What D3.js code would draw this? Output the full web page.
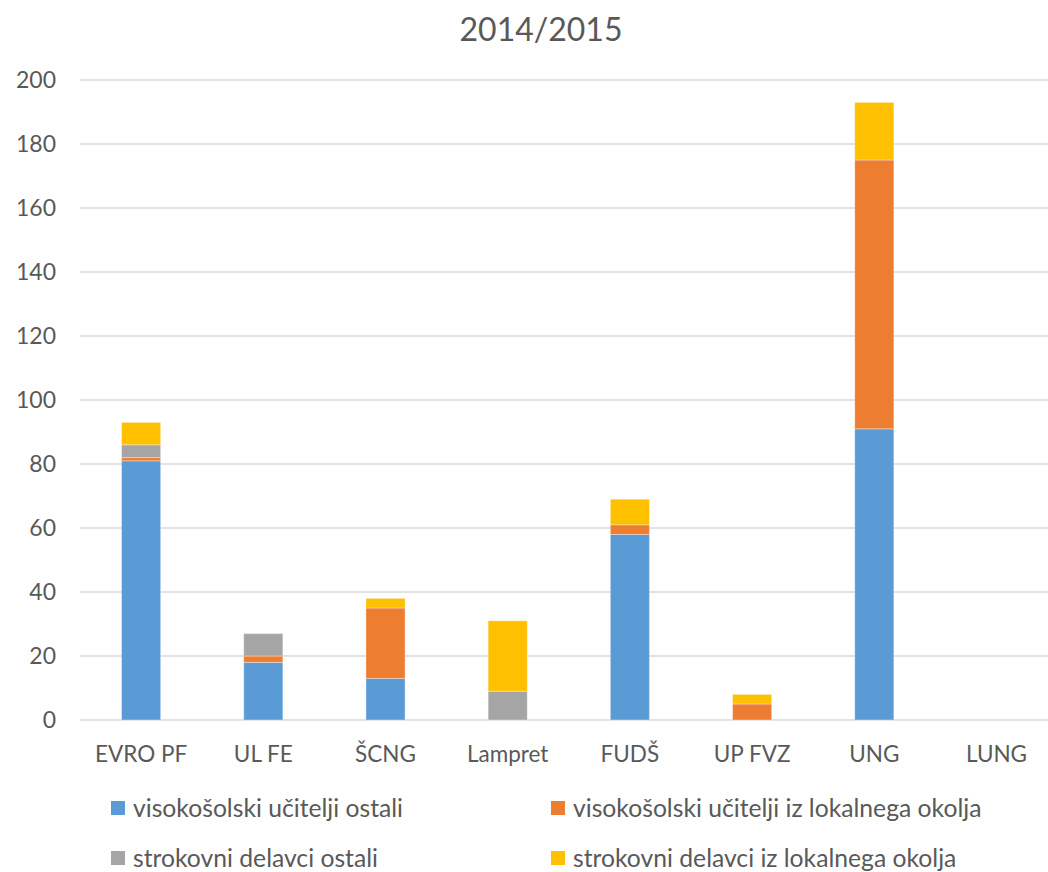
<!DOCTYPE html>
<html>
<head>
<meta charset="utf-8">
<script src="https://cdn.jsdelivr.net/npm/d3@7"></script>
<style>
  body { margin: 0; background: #fff; }
  text { font-family: Lato, "Open Sans", sans-serif; fill: #595959; }
</style>
</head>
<body>
<div id="chart"></div>
<script>
const categories = ["EVRO PF", "UL FE", "ŠCNG", "Lampret", "FUDŠ", "UP FVZ", "UNG", "LUNG"];
const seriesNames = [
  "visokošolski učitelji ostali",
  "visokošolski učitelji iz lokalnega okolja",
  "strokovni delavci ostali",
  "strokovni delavci iz lokalnega okolja"
];
const vsOstali = [81, 18, 13, 0, 58, 0, 91, 0];
const vsLokalni = [1, 2, 22, 0, 3, 5, 84, 0];
const sdOstali = [4, 7, 0, 9, 0, 0, 0, 0];
const sdLokalni = [7, 0, 3, 22, 8, 3, 18, 0];
const yTicks = [0, 20, 40, 60, 80, 100, 120, 140, 160, 180, 200];
const colors = ["#5b9bd5", "#ed7d31", "#a5a5a5", "#ffc000"];

const width = 1048, height = 872;
const margin = { top: 80, left: 80, bottom: 152 };
const plotRight = 80 + 8 * 122.2;

const svg = d3.select("#chart")
  .append("svg")
  .attr("width", width)
  .attr("height", height);

const rows = categories.map((c, i) => ({
  cat: c,
  s0: vsOstali[i], s1: vsLokalni[i], s2: sdOstali[i], s3: sdLokalni[i]
}));
const stack = d3.stack().keys(["s0", "s1", "s2", "s3"]);
const layers = stack(rows);

const x = d3.scaleBand()
  .domain(categories)
  .range([margin.left, plotRight])
  .paddingInner(0.68)
  .paddingOuter(0.34);

const y = d3.scaleLinear()
  .domain([0, 200])
  .range([height - margin.bottom, margin.top]);

// gridlines
svg.append("g")
  .selectAll("line")
  .data(yTicks)
  .enter()
  .append("line")
  .attr("x1", margin.left)
  .attr("x2", plotRight)
  .attr("y1", d => y(d))
  .attr("y2", d => y(d))
  .attr("stroke", "#d9d9d9")
  .attr("stroke-width", 1.5);

// y-axis labels
svg.append("g")
  .selectAll("text")
  .data(yTicks)
  .enter()
  .append("text")
  .attr("x", 56)
  .attr("y", d => y(d))
  .attr("dy", "0.36em")
  .attr("text-anchor", "end")
  .style("font-size", "23px")
  .text(d => d);

// bars
svg.append("g")
  .selectAll("g")
  .data(layers)
  .enter()
  .append("g")
  .attr("fill", (d, i) => colors[i])
  .selectAll("rect")
  .data(d => d)
  .enter()
  .append("rect")
  .attr("x", d => x(d.data.cat))
  .attr("y", d => y(d[1]))
  .attr("width", x.bandwidth())
  .attr("height", d => y(d[0]) - y(d[1]))
  .attr("stroke", "#ffffff")
  .attr("stroke-opacity", 0.35)
  .attr("stroke-width", 1);

// x-axis labels
svg.append("g")
  .selectAll("text")
  .data(categories)
  .enter()
  .append("text")
  .attr("x", d => x(d) + x.bandwidth() / 2)
  .attr("y", 762)
  .attr("text-anchor", "middle")
  .style("font-size", "22.5px")
  .text(d => d);

// title
svg.append("text")
  .attr("x", 541)
  .attr("y", 41)
  .attr("text-anchor", "middle")
  .style("font-size", "32px")
  .text("2014/2015");

// legend
const legendPos = [[111, 808], [551, 808], [111, 858], [551, 858]];
const legend = svg.append("g")
  .selectAll("g")
  .data(seriesNames)
  .enter()
  .append("g")
  .attr("transform", (d, i) => `translate(${legendPos[i][0]},${legendPos[i][1]})`);

legend.append("rect")
  .attr("x", 0)
  .attr("y", -7)
  .attr("width", 14)
  .attr("height", 14)
  .attr("fill", (d, i) => colors[i]);

legend.append("text")
  .attr("x", 22)
  .attr("y", 0)
  .attr("dy", "0.36em")
  .style("font-size", "24.7px")
  .text(d => d);
</script>
</body>
</html>
